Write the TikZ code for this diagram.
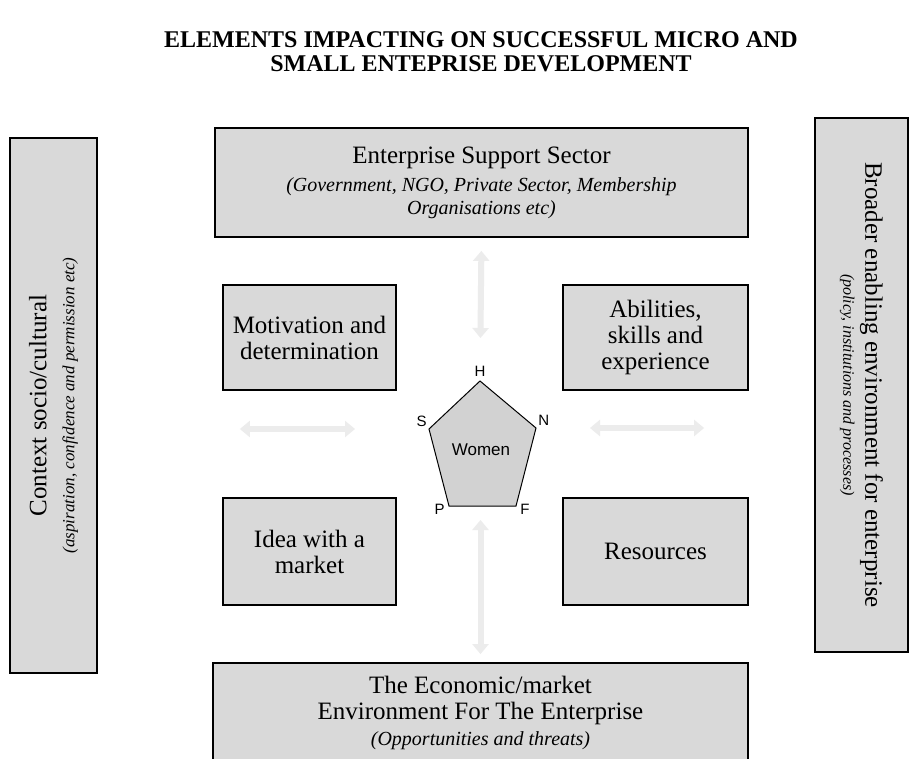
\documentclass[tikz,border=0pt]{standalone}
\usepackage{fontspec}
\setmainfont{Liberation Serif}
\setsansfont{Liberation Sans}
\usetikzlibrary{arrows.meta,positioning,calc}
\definecolor{boxgrey}{HTML}{D9D9D9}
\definecolor{pentgrey}{HTML}{D2D2D2}

\begin{document}
\begin{tikzpicture}[
  x=0.5pt, y=-0.5pt,
  box/.style={draw=black, fill=boxgrey, line width=0.9pt, align=center, inner sep=0pt, font=\fontsize{12.5}{13}\selectfont},
  vlabel/.style={font=\sffamily\fontsize{7.5}{9}\selectfont, inner sep=1pt},
  ghost/.style={draw=gray!15, line width=3pt, {Triangle[width=8pt,length=5pt]}-{Triangle[width=8pt,length=5pt]}}
]
\useasboundingbox[fill=white] (0,0) rectangle (911,759);

% title
\node[font=\bfseries\fontsize{12}{12}\selectfont, align=center] (title) at (481,52)
  {ELEMENTS IMPACTING ON SUCCESSFUL MICRO AND\\SMALL ENTEPRISE DEVELOPMENT};

% side boxes
\node[box, rotate=90, minimum width=267.5pt, minimum height=43.5pt] (ctx) at (53.5,405.5)
  {Context socio/cultural\\[1pt]{\fontsize{8.5}{10}\selectfont\itshape (aspiration, confidence and permission etc)}};
\node[box, rotate=-90, minimum width=267pt, minimum height=46.5pt] (broad) at (861.5,385)
  {Broader enabling environment for enterprise\\[-2pt]{\fontsize{8}{10}\selectfont\itshape (policy, institutions and processes)}};

% top and bottom sectors
\node[box, minimum width=266.5pt, minimum height=54.5pt] (support) at (481.5,182.5)
  {Enterprise Support Sector\\[1pt]{\fontsize{10}{11.5}\selectfont\itshape (Government, NGO, Private Sector, Membership}\\[-1.5pt]{\fontsize{10}{11.5}\selectfont\itshape Organisations etc)}};
\node[box, minimum width=267.5pt, minimum height=49.5pt] (econ) at (480.5,712.5)
  {The Economic/market\\Environment For The Enterprise\\{\fontsize{10}{11.5}\selectfont\itshape (Opportunities and threats)}};

% four elements
\node[box, minimum width=86.5pt, minimum height=52.5pt] (motiv) at (309.5,337.5) {Motivation and\\determination};
\node[box, minimum width=92.5pt, minimum height=52.5pt] (abil) at (655.5,337.5) {Abilities,\\skills and\\experience};
\node[box, minimum width=86.5pt, minimum height=53.5pt] (idea) at (309.5,551.5) {Idea with a\\market};
\node[box, minimum width=92.5pt, minimum height=53.5pt] (res) at (655.5,551.5) {Resources};

% pentagon
\coordinate (pH) at (480,381);
\coordinate (pN) at (536,428);
\coordinate (pF) at (516,506);
\coordinate (pP) at (449,506);
\coordinate (pS) at (429,429);
\draw[fill=pentgrey, line width=0.5pt] (pH) -- (pN) -- (pF) -- (pP) -- (pS) -- cycle;
\node[font=\sffamily\fontsize{8.5}{10}\selectfont] (women) at (481,450) {Women};
\node[vlabel, above=1pt of pH] (hlab) {H};
\node[vlabel, left=0pt of pS, yshift=4pt] (slab) {S};
\node[vlabel, right=0pt of pN, yshift=4pt] (nlab) {N};
\node[vlabel, below left=-2pt and 1pt of pP] (plab) {P};
\node[vlabel, below right=-2pt and 1pt of pF] (flab) {F};

% faint links
\draw[ghost, shorten <=6.5pt, shorten >=21.5pt] (support.south) -- (pH);
\draw[ghost, shorten <=4pt, shorten >=7pt] (econ.north) -- (pF -| econ.north);
\draw[ghost, shorten <=71pt, shorten >=37pt] (ctx.south |- pS) -- (pS);
\draw[ghost, shorten <=27pt, shorten >=55pt] (pN) -- (broad.south |- pN);
\end{tikzpicture}
\end{document}
